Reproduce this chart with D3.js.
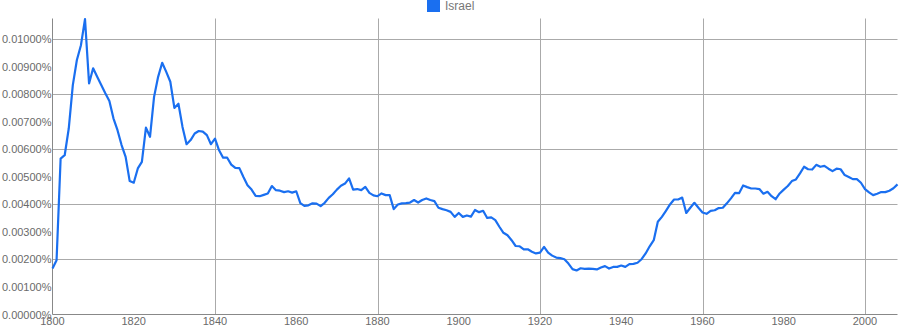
<!DOCTYPE html>
<html>
<head>
<meta charset="utf-8">
<script src="https://cdn.jsdelivr.net/npm/d3@7"></script>
<style>
  body { margin: 0; background: #fff; }
  svg { display: block; font-family: "Liberation Sans", Arial, sans-serif; }
  .tick-label { fill: #6a6a6a; font-size: 11px; }
  .legend-label { fill: #777; font-size: 12px; }
</style>
</head>
<body>
<svg id="chart"></svg>
<script>
// ---------- data ----------
var startYear = 1800;
var seriesName = "Israel";
// yearly share, in percent (1800 .. 2008)
var israel = [
  0.00167, 0.00197, 0.00567, 0.00579, 0.00676, 0.00834, 0.00925, 0.00979, 0.01074, 0.00840,
  0.00895, 0.00864, 0.00834, 0.00804, 0.00776, 0.00713, 0.00670, 0.00616, 0.00573, 0.00485,
  0.00479, 0.00531, 0.00555, 0.00679, 0.00646, 0.00791, 0.00864, 0.00915, 0.00882, 0.00846,
  0.00751, 0.00766, 0.00682, 0.00619, 0.00634, 0.00658, 0.00667, 0.00665, 0.00652, 0.00619,
  0.00639, 0.00597, 0.00570, 0.00570, 0.00545, 0.00533, 0.00532, 0.00500, 0.00470, 0.00454,
  0.00431, 0.00430, 0.00435, 0.00440, 0.00467, 0.00452, 0.00450, 0.00445, 0.00448, 0.00443,
  0.00448, 0.00405, 0.00395, 0.00397, 0.00404, 0.00403, 0.00394, 0.00406, 0.00424, 0.00437,
  0.00454, 0.00468, 0.00476, 0.00495, 0.00454, 0.00456, 0.00452, 0.00464, 0.00442, 0.00433,
  0.00430, 0.00440, 0.00434, 0.00434, 0.00383, 0.00400, 0.00404, 0.00405, 0.00407, 0.00416,
  0.00407, 0.00416, 0.00422, 0.00416, 0.00412, 0.00388, 0.00383, 0.00379, 0.00373, 0.00355,
  0.00369, 0.00355, 0.00360, 0.00356, 0.00380, 0.00372, 0.00377, 0.00351, 0.00353, 0.00343,
  0.00319, 0.00297, 0.00288, 0.00270, 0.00249, 0.00248, 0.00237, 0.00237, 0.00228, 0.00222,
  0.00225, 0.00246, 0.00225, 0.00214, 0.00207, 0.00205, 0.00201, 0.00185, 0.00165, 0.00160,
  0.00168, 0.00166, 0.00167, 0.00166, 0.00164, 0.00171, 0.00176, 0.00167, 0.00173, 0.00173,
  0.00178, 0.00173, 0.00183, 0.00184, 0.00188, 0.00201, 0.00222, 0.00248, 0.00270, 0.00337,
  0.00355, 0.00377, 0.00400, 0.00418, 0.00418, 0.00425, 0.00369, 0.00388, 0.00406, 0.00388,
  0.00371, 0.00366, 0.00377, 0.00379, 0.00387, 0.00388, 0.00404, 0.00422, 0.00442, 0.00441,
  0.00469, 0.00463, 0.00458, 0.00458, 0.00456, 0.00439, 0.00446, 0.00430, 0.00419, 0.00440,
  0.00454, 0.00467, 0.00485, 0.00491, 0.00513, 0.00537, 0.00528, 0.00527, 0.00544, 0.00537,
  0.00540, 0.00530, 0.00521, 0.00530, 0.00528, 0.00507, 0.00500, 0.00492, 0.00492, 0.00479,
  0.00456, 0.00444, 0.00434, 0.00439, 0.00445, 0.00445, 0.00450, 0.00459, 0.00473
];
var yTicks = [0, 0.001, 0.002, 0.003, 0.004, 0.005, 0.006, 0.007, 0.008, 0.009, 0.010];
var yGrid = [0.002, 0.004, 0.006, 0.008, 0.010];
var xTicks = [1800, 1820, 1840, 1860, 1880, 1900, 1920, 1940, 1960, 1980, 2000];
var xGrid = [1840, 1880, 1920, 1960, 2000];

var points = israel.map(function (v, i) { return { year: startYear + i, value: v }; });

// ---------- layout ----------
var screen = { width: 900, height: 330 };
var plot = { left: 52.5, right: 897.5, top: 18.5, bottom: 314.5 };

var svg = d3.select("#chart")
  .attr("width", screen.width)
  .attr("height", screen.height);

var xScale = d3.scaleLinear()
  .domain([1800, 2008])
  .range([plot.left, plot.right]);

var yScale = d3.scaleLinear()
  .domain([0, 0.01076])
  .range([plot.bottom, plot.top]);

// ---------- grid ----------
svg.append("g").selectAll("line")
  .data(yGrid)
  .enter()
  .append("line")
  .attr("x1", plot.left)
  .attr("x2", plot.right)
  .attr("y1", function (d) { return Math.round(yScale(d)) + 0.5; })
  .attr("y2", function (d) { return Math.round(yScale(d)) + 0.5; })
  .attr("stroke", "#aaa")
  .attr("stroke-width", 1);

svg.append("g").selectAll("line")
  .data(xGrid)
  .enter()
  .append("line")
  .attr("x1", function (d) { return Math.round(xScale(d)) + 0.5; })
  .attr("x2", function (d) { return Math.round(xScale(d)) + 0.5; })
  .attr("y1", plot.top)
  .attr("y2", plot.bottom)
  .attr("stroke", "#aaa")
  .attr("stroke-width", 1);

// axis lines
svg.append("line")
  .attr("x1", plot.left).attr("x2", plot.left)
  .attr("y1", plot.top).attr("y2", plot.bottom)
  .attr("stroke", "#888");
svg.append("line")
  .attr("x1", plot.left).attr("x2", plot.right)
  .attr("y1", plot.bottom).attr("y2", plot.bottom)
  .attr("stroke", "#888");

// ---------- tick labels ----------
svg.append("g").selectAll("text")
  .data(yTicks)
  .enter()
  .append("text")
  .classed("tick-label", true)
  .attr("x", plot.left - 1)
  .attr("y", function (d) { return yScale(d) + 4; })
  .attr("text-anchor", "end")
  .text(function (d) { return d.toFixed(5) + "%"; });

svg.append("g").selectAll("text")
  .data(xTicks)
  .enter()
  .append("text")
  .classed("tick-label", true)
  .attr("x", function (d) { return xScale(d); })
  .attr("y", 325)
  .attr("text-anchor", "middle")
  .text(function (d) { return d; });

// ---------- line ----------
var line = d3.line()
  .x(function (d) { return xScale(d.year); })
  .y(function (d) { return yScale(d.value); });

svg.append("path")
  .datum(points)
  .attr("d", line)
  .attr("fill", "none")
  .attr("stroke", "#1a6ff0")
  .attr("stroke-width", 2.2)
  .attr("stroke-linejoin", "round");

// ---------- legend ----------
var legend = svg.append("g");
legend.append("rect")
  .attr("x", 427).attr("y", 0)
  .attr("width", 13).attr("height", 12)
  .attr("fill", "#1a6ff0");
legend.append("text")
  .classed("legend-label", true)
  .attr("x", 445).attr("y", 10)
  .text(seriesName);
</script>
</body>
</html>
